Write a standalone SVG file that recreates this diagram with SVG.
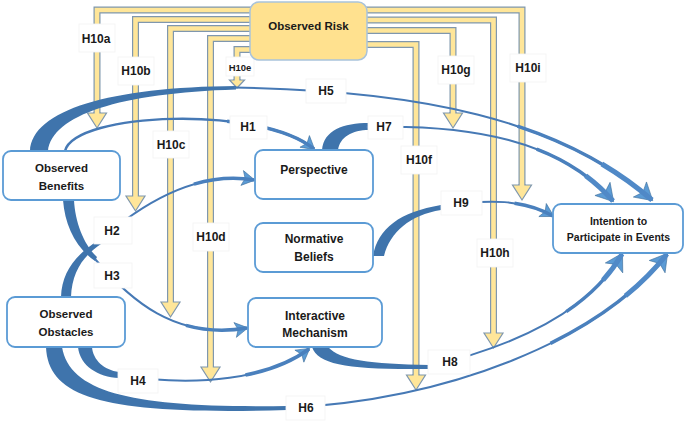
<svg xmlns="http://www.w3.org/2000/svg" width="685" height="421" viewBox="0 0 685 421">
<style>
.po{fill:none;stroke:#7F97AE;stroke-width:7}
.pi{fill:none;stroke:#FFE699;stroke-width:4.6}
.ph{fill:#FFE699;stroke:#7F97AE;stroke-width:1.2}
.tail{fill:#3F74AC}
.ln{fill:none;stroke:#4679B5;stroke-width:2}
.lm{fill:none;stroke:#4A80BD;stroke-width:3.5;stroke-dasharray:0 65 35}
.lt{fill:none;stroke:#5089C7;stroke-width:5;stroke-dasharray:0 86 14}
.lb{fill:#fff;stroke:#f3f3f3;stroke-width:0.8}
.lab{font-family:"Liberation Sans",Arial,sans-serif;font-weight:bold;font-size:12px;text-anchor:middle;fill:#1a1a1a}
.node{fill:#fff;stroke:#5B9BD5;stroke-width:1.8}
.nt{font-family:"Liberation Sans",Arial,sans-serif;font-weight:bold;font-size:12px;text-anchor:middle;fill:#1a1a1a}
</style>
<defs>
<marker id="hb" markerUnits="userSpaceOnUse" orient="auto" refX="0" refY="0" markerWidth="20" markerHeight="20" overflow="visible">
<path d="M1,0 L-16,-10 L-12,0 L-16,10 Z" fill="#5B9BD5" stroke="#41719C" stroke-width="0.6"/>
</marker>
<marker id="hs" markerUnits="userSpaceOnUse" orient="auto" refX="0" refY="0" markerWidth="16" markerHeight="16" overflow="visible">
<path d="M1,0 L-12,-7.5 L-9,0 L-12,7.5 Z" fill="#5B9BD5" stroke="#41719C" stroke-width="0.6"/>
</marker>
</defs>
<rect width="685" height="421" fill="#fff"/>

<g id="pipes">
<path class="po" d="M262,10H97V113.5"/><path class="pi" d="M262,10H97V113.5"/><path class="ph" d="M94.1,112V113H87.5L97,128L106.5,113H99.9V112"/>
<path class="po" d="M262,19.5H135.5V196.5"/><path class="pi" d="M262,19.5H135.5V196.5"/><path class="ph" d="M132.6,195V196H126L135.5,211L145,196H138.4V195"/>
<path class="po" d="M262,28.5H170.5V302.5"/><path class="pi" d="M262,28.5H170.5V302.5"/><path class="ph" d="M167.6,301V302H161L170.5,317L180,302H173.4V301"/>
<path class="po" d="M262,38.5H210.5V367.5"/><path class="pi" d="M262,38.5H210.5V367.5"/><path class="ph" d="M207.6,366V367H201L210.5,382L220,367H213.4V366"/>
<path class="po" d="M262,49.5H237V80.5"/><path class="pi" d="M262,49.5H237V80.5"/><path class="ph" d="M234.1,79V80H229.5L237,88L244.5,80H239.9V79"/>
<path class="po" d="M355,10H522V185.5"/><path class="pi" d="M355,10H522V185.5"/><path class="ph" d="M519.1,184V185H512.5L522,200L531.5,185H524.9V184"/>
<path class="po" d="M355,20H493.5V333.5"/><path class="pi" d="M355,20H493.5V333.5"/><path class="ph" d="M490.6,332V333H484L493.5,348L503,333H496.4V332"/>
<path class="po" d="M355,30.5H453V113.5"/><path class="pi" d="M355,30.5H453V113.5"/><path class="ph" d="M450.1,112V113H443.5L453,128L462.5,113H455.9V112"/>
<path class="po" d="M355,44.5H416V375.5"/><path class="pi" d="M355,44.5H416V375.5"/><path class="ph" d="M413.1,374V375H406.5L416,390L425.5,375H418.9V374"/>
</g>

<g id="connectors">
<!-- H5 -->
<path class="tail" d="M30,151 C32,110 110,87 236,86 L236,89.5 C120,93 52,115 48,151 Z"/>
<path class="ln" d="M234,87.6 C420,90 560,120 652,200" marker-end="url(#hb)"/>
<path class="lm" pathLength="100" d="M234,87.6 C420,90 560,120 652,200"/>
<path class="lt" pathLength="100" d="M234,87.6 C420,90 560,120 652,200"/>
<!-- H7 -->
<path class="tail" d="M322,150 C324,130 343,123 369,123 L369,130 C352,130 340,137 338,150 Z"/>
<path class="ln" d="M366,127 C470,124 560,140 613,201" marker-end="url(#hb)"/>
<path class="lm" pathLength="100" d="M366,127 C470,124 560,140 613,201"/>
<path class="lt" pathLength="100" d="M366,127 C470,124 560,140 613,201"/>
<!-- H1 -->
<path class="ln" style="stroke-width:2.5" d="M65,151 C75,112 260,105 314,149" marker-end="url(#hs)"/>
<path class="lm" pathLength="100" d="M65,151 C75,112 260,105 314,149"/>
<!-- H2 -->
<path class="tail" d="M61,297 C62,272 75,255 99,240 L101,244 C83,256 72,272 71,297 Z"/>
<path class="ln" d="M98,242 C140,205 195,170 254,180" marker-end="url(#hs)"/>
<path class="lm" pathLength="100" d="M98,242 C140,205 195,170 254,180"/>
<!-- H3 -->
<path class="tail" d="M63,200 C65,225 75,247 95,261 L97,257 C84,245 75,222 74,200 Z"/>
<path class="ln" d="M95,259 C130,300 175,340 247,328" marker-end="url(#hs)"/>
<path class="lm" pathLength="100" d="M95,259 C130,300 175,340 247,328"/>
<!-- H4 -->
<path class="tail" d="M78,347 C80,366 98,377 119,378 L119,372 C104,370 93,360 92,347 Z"/>
<path class="ln" d="M117,375 C200,388 270,378 309,349" marker-end="url(#hs)"/>
<path class="lm" pathLength="100" d="M117,375 C200,388 270,378 309,349"/>
<!-- H6 -->
<path class="tail" d="M46,347 C48,400 110,415 287,410 L287,406 C140,408 70,395 62,347 Z"/>
<path class="ln" d="M285,408 C450,400 600,340 667,254" marker-end="url(#hb)"/>
<path class="lm" pathLength="100" d="M285,408 C450,400 600,340 667,254"/>
<path class="lt" pathLength="100" d="M285,408 C450,400 600,340 667,254"/>
<!-- H8 -->
<path class="tail" d="M312,347 C318,365 350,370 429,369 L429,365 C370,364 340,360 328,347 Z"/>
<path class="ln" d="M427,367 C520,345 590,310 622,254" marker-end="url(#hb)"/>
<path class="lm" pathLength="100" d="M427,367 C520,345 590,310 622,254"/>
<path class="lt" pathLength="100" d="M427,367 C520,345 590,310 622,254"/>
<!-- H9 -->
<path class="tail" d="M373,256 C378,228 400,212 441,205 L441,210 C410,215 390,232 384,256 Z"/>
<path class="ln" d="M439,207 C490,198 525,200 553,216" marker-end="url(#hs)"/>
<path class="lm" pathLength="100" d="M439,207 C490,198 525,200 553,216"/>
</g>

<g id="labels">
<rect class="lb" x="79" y="24" width="36" height="28"/><text class="lab" x="96" y="43.3">H10a</text>
<rect class="lb" x="118" y="57" width="36" height="28"/><text class="lab" x="136" y="75.3">H10b</text>
<rect class="lb" x="153" y="131" width="36" height="27"/><text class="lab" x="171" y="149.3">H10c</text>
<rect class="lb" x="193" y="223" width="36" height="28"/><text class="lab" x="211" y="241.3">H10d</text>
<rect class="lb" x="226" y="57" width="28" height="19"/><text class="lab" style="font-size:9.5px" x="240" y="71.4">H10e</text>
<rect class="lb" x="438" y="56" width="36" height="28"/><text class="lab" x="456" y="74.3">H10g</text>
<rect class="lb" x="510" y="54" width="36" height="28"/><text class="lab" x="528" y="72.3">H10i</text>
<rect class="lb" x="401" y="146" width="36" height="28"/><text class="lab" x="419" y="164.3">H10f</text>
<rect class="lb" x="477" y="239" width="36" height="28"/><text class="lab" x="495" y="257.3">H10h</text>
<rect class="lb" x="306" y="79" width="40" height="24"/><text class="lab" x="326" y="95.3">H5</text>
<rect class="lb" x="230" y="116" width="37" height="23"/><text class="lab" x="248" y="131.3">H1</text>
<rect class="lb" x="368" y="116" width="35" height="23"/><text class="lab" x="384" y="131.3">H7</text>
<rect class="lb" x="441" y="191" width="41" height="24"/><text class="lab" x="461" y="207.3">H9</text>
<rect class="lb" x="94" y="217" width="38" height="27"/><text class="lab" x="112" y="235.3">H2</text>
<rect class="lb" x="94" y="263" width="38" height="25"/><text class="lab" x="112" y="280.3">H3</text>
<rect class="lb" x="118" y="369" width="40" height="24"/><text class="lab" x="138" y="385.3">H4</text>
<rect class="lb" x="286" y="396" width="39" height="24"/><text class="lab" x="306" y="412.3">H6</text>
<rect class="lb" x="428" y="350" width="42" height="24"/><text class="lab" x="450" y="366.3">H8</text>
</g>

<g id="observed-risk">
<rect x="250" y="2" width="117" height="58" rx="9" fill="#FFE18F" stroke="#A9C3DB" stroke-width="1.5"/>
<text class="nt" style="font-size:11.5px" x="308.5" y="30">Observed Risk</text>
</g>
<g id="observed-benefits">
<rect class="node" x="3" y="151" width="117" height="49" rx="8"/>
<text class="nt" style="font-size:11.5px" x="61.5" y="171.5">Observed</text>
<text class="nt" style="font-size:11.5px" x="61.5" y="190">Benefits</text>
</g>
<g id="perspective">
<rect class="node" x="255" y="150" width="118" height="49" rx="8"/>
<text class="nt" x="314" y="174">Perspective</text>
</g>
<g id="normative-beliefs">
<rect class="node" x="255" y="223" width="118" height="49" rx="8"/>
<text class="nt" x="314" y="243">Normative</text>
<text class="nt" x="314" y="261">Beliefs</text>
</g>
<g id="observed-obstacles">
<rect class="node" x="7" y="297" width="118" height="50" rx="8"/>
<text class="nt" style="font-size:11.5px" x="66" y="318">Observed</text>
<text class="nt" style="font-size:11.5px" x="66" y="336">Obstacles</text>
</g>
<g id="interactive-mechanism">
<rect class="node" x="248" y="298" width="134" height="49" rx="8"/>
<text class="nt" x="315" y="320">Interactive</text>
<text class="nt" x="315" y="337">Mechanism</text>
</g>
<g id="intention">
<rect class="node" x="553" y="204" width="130" height="49" rx="8"/>
<text class="nt" style="font-size:10.5px" x="618.5" y="225">Intention to</text>
<text class="nt" style="font-size:10.5px" x="618.5" y="240.5">Participate in Events</text>
</g>
</svg>
